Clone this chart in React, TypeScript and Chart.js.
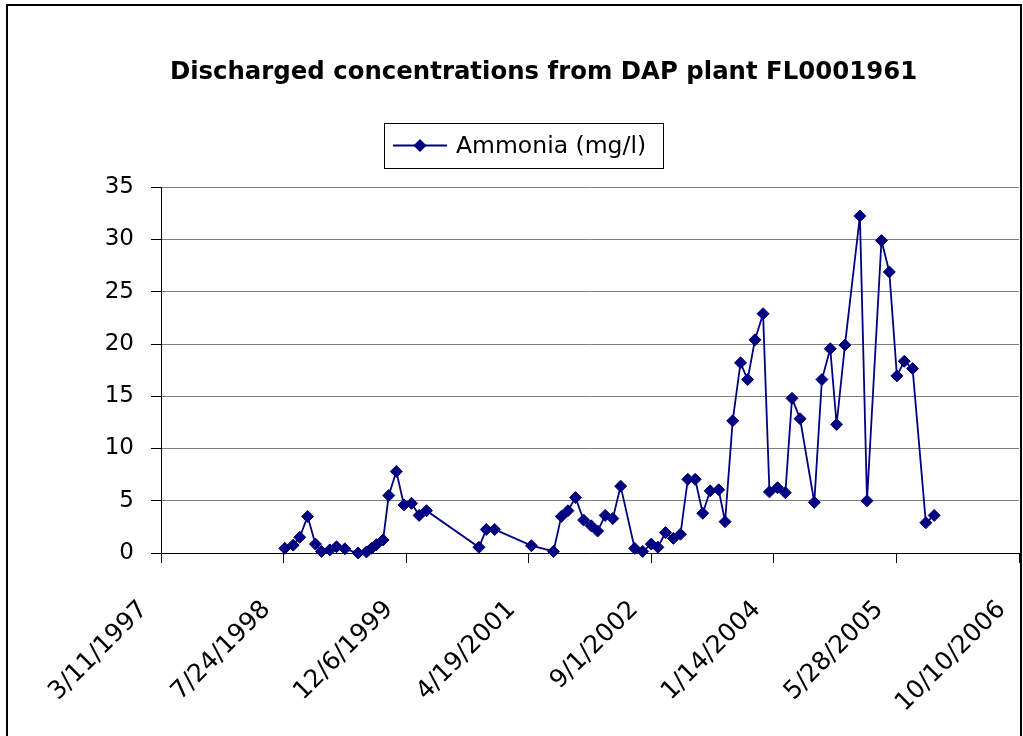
import React, { useEffect, useRef } from "react";
import { Chart, registerables } from "chart.js";

Chart.register(...registerables);

const chartTitle = "Discharged concentrations from DAP plant FL0001961";
const seriesLabel = "Ammonia (mg/l)";

const sampleDates = [
  "7/29/1998", "9/1/1998", "9/28/1998", "10/30/1998", "12/1/1998", "12/26/1998",
  "1/29/1999", "2/25/1999", "3/31/1999", "5/24/1999", "6/27/1999", "7/18/1999",
  "8/7/1999", "9/3/1999", "9/26/1999", "10/27/1999", "11/27/1999", "12/28/1999",
  "1/28/2000", "2/27/2000", "9/28/2000", "10/28/2000", "12/1/2000",
  "4/30/2001", "7/29/2001", "8/30/2001", "9/26/2001", "10/27/2001", "11/29/2001", "12/30/2001",
  "1/25/2002", "2/25/2002", "3/28/2002", "4/29/2002", "6/25/2002", "7/28/2002",
  "9/1/2002", "9/28/2002", "10/29/2002", "11/30/2002", "12/29/2002",
  "1/28/2003", "2/27/2003", "3/30/2003", "4/29/2003", "6/3/2003", "6/29/2003",
  "7/30/2003", "8/31/2003", "9/29/2003", "10/29/2003", "12/1/2003", "12/27/2003",
  "1/29/2004", "3/1/2004", "3/28/2004", "4/30/2004", "6/27/2004", "7/28/2004",
  "8/31/2004", "9/26/2004", "10/30/2004", "12/30/2004",
  "1/28/2005", "3/28/2005", "4/29/2005", "5/30/2005", "6/29/2005", "8/2/2005",
  "9/25/2005", "10/29/2005",
];

const ammonia = [
  0.45, 0.75, 1.5, 3.5, 0.85, 0.15,
  0.3, 0.6, 0.4, 0.0, 0.1, 0.45,
  0.8, 1.25, 5.5, 7.8, 4.6, 4.75,
  3.6, 4.05, 0.55, 2.25, 2.25,
  0.7, 0.15, 3.5, 4.05, 5.3, 3.15, 2.6,
  2.1, 3.6, 3.3, 6.4, 0.45, 0.15,
  0.85, 0.55, 1.95, 1.4, 1.8,
  7.05, 7.05, 3.8, 5.95, 6.05, 3.0,
  12.65, 18.2, 16.6, 20.4, 22.9, 5.85,
  6.25, 5.77, 14.8, 12.85, 4.85, 16.6,
  19.55, 12.3, 19.9, 32.25,
  5.0, 29.9, 26.9, 16.95, 18.35, 17.65,
  2.9, 3.6,
];

// x axis: date axis, ticks every 500 days starting 3/11/1997
const axisStartDate = "3/11/1997";
const xTickStepDays = 500;
const xTickCount = 8; // 3/11/1997 ... 10/10/2006
const yMin = 0;
const yMax = 35;
const yStep = 5;

const DAY = 86400000;
const parseDate = (s: string) => {
  const [m, d, y] = s.split("/").map(Number);
  return Date.UTC(y, m - 1, d);
};
const originMs = parseDate(axisStartDate);
const toDays = (s: string) => Math.round((parseDate(s) - originMs) / DAY);
const fmtDay = (v: number) => {
  const dt = new Date(originMs + v * DAY);
  return `${dt.getUTCMonth() + 1}/${dt.getUTCDate()}/${dt.getUTCFullYear()}`;
};

const FONT = "'DejaVu Sans', sans-serif";
const NAVY = "#000080";

const CANVAS_W = 1012;
const CANVAS_H = 730;

const boxedLegend = {
  id: "boxedLegend",
  afterDraw(chart: any) {
    const ctx = chart.ctx;
    const bx = 376, by = 117, bw = 279, bh = 45;
    const cy = by + bh / 2;
    ctx.save();
    ctx.fillStyle = "#fff";
    ctx.fillRect(bx, by, bw, bh);
    ctx.strokeStyle = "#000";
    ctx.lineWidth = 1;
    ctx.strokeRect(bx + 0.5, by + 0.5, bw, bh);
    ctx.strokeStyle = NAVY;
    ctx.lineWidth = 1.8;
    ctx.beginPath();
    ctx.moveTo(bx + 9, cy);
    ctx.lineTo(bx + 63, cy);
    ctx.stroke();
    ctx.fillStyle = NAVY;
    const r = 6.5;
    const mx = bx + 36;
    ctx.beginPath();
    ctx.moveTo(mx, cy - r);
    ctx.lineTo(mx + r, cy);
    ctx.lineTo(mx, cy + r);
    ctx.lineTo(mx - r, cy);
    ctx.closePath();
    ctx.fill();
    ctx.fillStyle = "#000";
    ctx.font = `23.5px ${FONT}`;
    ctx.textBaseline = "middle";
    ctx.textAlign = "left";
    ctx.fillText(seriesLabel, bx + 72, cy + 1);
    ctx.restore();
  },
};

export default function App() {
  const ref = useRef<HTMLCanvasElement | null>(null);

  useEffect(() => {
    if (!ref.current) return;
    const points = sampleDates.map((d, i) => ({ x: toDays(d), y: ammonia[i] }));
    const chart = new Chart(ref.current, {
      type: "line",
      data: {
        datasets: [
          {
            label: seriesLabel,
            data: points,
            borderColor: NAVY,
            backgroundColor: NAVY,
            borderWidth: 1.8,
            pointStyle: "rectRot",
            pointRadius: 6,
            pointBackgroundColor: NAVY,
            pointBorderColor: NAVY,
            pointBorderWidth: 1,
            tension: 0,
            fill: false,
            clip: false,
          },
        ],
      },
      options: {
        responsive: false,
        maintainAspectRatio: false,
        animation: false,
        layout: { autoPadding: false, padding: { left: 60, right: 1, top: 0, bottom: 0 } },
        plugins: {
          legend: { display: false },
          tooltip: { enabled: false },
          title: {
            display: true,
            text: chartTitle,
            color: "#000",
            font: { family: FONT, size: 24.4, weight: "bold" },
            padding: { top: 52, bottom: 100 },
          },
        },
        scales: {
          x: {
            type: "linear",
            min: 0,
            max: xTickStepDays * (xTickCount - 1),
            afterFit: (s: any) => {
              s.height = CANVAS_H - 547;
              s.paddingLeft = 0;
              s.paddingRight = 0;
            },
            ticks: {
              stepSize: xTickStepDays,
              autoSkip: false,
              maxRotation: 45,
              minRotation: 45,
              color: "#000",
              font: { family: FONT, size: 25 },
              padding: 32,
              labelOffset: -17,
              callback: (v: any) => fmtDay(Number(v)),
            },
            grid: {
              drawOnChartArea: false,
              drawTicks: true,
              tickLength: 10,
              color: "#000",
            },
            border: { display: true, color: "#000", width: 1 },
          },
          y: {
            min: yMin,
            max: yMax,
            afterFit: (s: any) => {
              s.width = 93;
            },
            ticks: {
              stepSize: yStep,
              color: "#000",
              font: { family: FONT, size: 23 },
              padding: 17,
            },
            grid: {
              color: "#808080",
              tickColor: "#000",
              tickLength: 10,
              drawTicks: true,
            },
            border: { display: true, color: "#000", width: 1 },
          },
        },
      },
      plugins: [boxedLegend],
    });
    return () => chart.destroy();
  }, []);

  return (
    <div
      style={{
        position: "fixed",
        left: 6,
        top: 4,
        width: 1016,
        height: 760,
        boxSizing: "border-box",
        border: "2px solid #000",
        background: "#fff",
        overflow: "hidden",
      }}
    >
      <canvas ref={ref} width={CANVAS_W} height={CANVAS_H} style={{ display: "block" }} />
    </div>
  );
}
